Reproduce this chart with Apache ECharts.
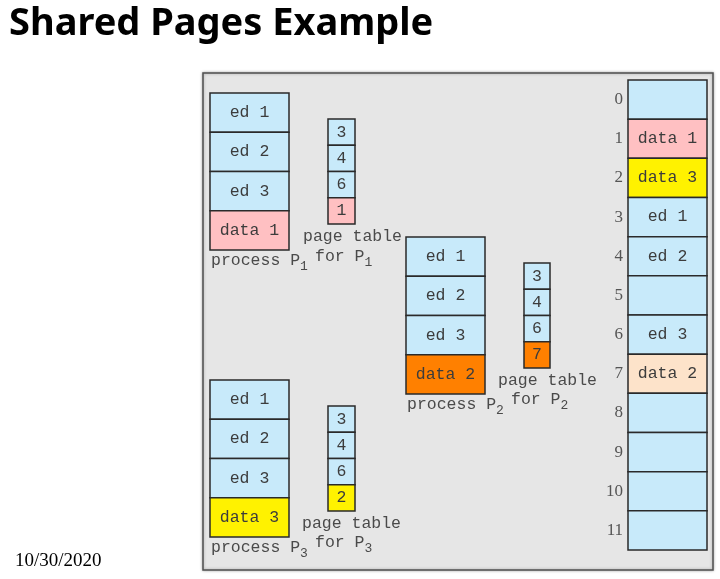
<!DOCTYPE html>
<html><head><meta charset="utf-8">
<script src="https://cdn.jsdelivr.net/npm/echarts@6/dist/echarts.min.js"></script>
<style>html,body{margin:0;padding:0;background:#fff}#c{width:720px;height:579px}</style>
</head><body><div id="c"></div>
<script>
const titleText = 'Shared Pages Example';
const dateText = '10/30/2020';
const frameNumbers = ['0','1','2','3','4','5','6','7','8','9','10','11'];
const frameContents = ['', 'data 1', 'data 3', 'ed 1', 'ed 2', '', 'ed 3', 'data 2', '', '', '', ''];
const pageIndex = ['0','1','2','3'];
const p1Pages = ['ed 1','ed 2','ed 3','data 1'];
const p2Pages = ['ed 1','ed 2','ed 3','data 2'];
const p3Pages = ['ed 1','ed 2','ed 3','data 3'];
const p1Table = ['3','4','6','1'];
const p2Table = ['3','4','6','7'];
const p3Table = ['3','4','6','2'];

const BLUE = '#c8eafa', PINK = '#ffc0c2', YELLOW = '#fff200', ORANGE = '#ff8000', PEACH = '#fde3ca';
const procColor = {'ed 1': BLUE, 'ed 2': BLUE, 'ed 3': BLUE, 'data 1': PINK, 'data 2': ORANGE, 'data 3': YELLOW};
const memColor = {'data 1': PINK, 'data 2': PEACH, 'data 3': YELLOW};
const MONO = 'Liberation Mono';
const FS = 16.5;

const grids = [], xAxes = [], yAxes = [], series = [];
function block(rect, cats, labels, colors, showAxis) {
  const i = grids.length;
  grids.push(Object.assign({containLabel: false}, rect));
  xAxes.push({type: 'value', gridIndex: i, min: 0, max: 1, show: false});
  yAxes.push({type: 'category', gridIndex: i, data: cats, inverse: true,
    axisLine: {show: false}, axisTick: {show: false}, splitLine: {show: false},
    axisLabel: {show: showAxis, color: '#555', fontFamily: 'Liberation Serif', fontSize: 17, margin: 5}});
  series.push({type: 'custom', xAxisIndex: i, yAxisIndex: i,
    encode: {x: 0, y: 1},
    data: cats.map((c, k) => [1, k]),
    renderItem: function (params, api) {
      const k = api.value(1);
      const a = api.coord([0, k]);
      const b = api.coord([api.value(0), k]);
      const h = api.size([0, 1])[1];
      return {
        type: 'rect',
        shape: {x: a[0], y: a[1] - h / 2, width: b[0] - a[0], height: h},
        style: {fill: colors[k], stroke: '#2a2a2a', lineWidth: 1.5},
        textContent: {style: {text: labels[k], fill: '#3c3c3c', font: FS + 'px "' + MONO + '"'}},
        textConfig: {position: 'inside'}
      };
    }});
}
const pColors = pages => pages.map(p => procColor[p]);
block({left: 210, top: 93, width: 79, height: 157}, p1Pages, p1Pages, pColors(p1Pages), false);
block({left: 328, top: 119, width: 27, height: 105}, pageIndex, p1Table, pColors(p1Pages), false);
block({left: 406, top: 237, width: 79, height: 157}, p2Pages, p2Pages, pColors(p2Pages), false);
block({left: 524, top: 263, width: 26, height: 105}, pageIndex, p2Table, pColors(p2Pages), false);
block({left: 210, top: 380, width: 79, height: 157}, p3Pages, p3Pages, pColors(p3Pages), false);
block({left: 328, top: 406, width: 27, height: 105}, pageIndex, p3Table, pColors(p3Pages), false);
block({left: 628, top: 80, width: 79, height: 470}, frameNumbers, frameContents,
  frameContents.map(c => memColor[c] || BLUE), true);

const CW = FS * 0.6;
function txt(x, y, s, extra) {
  return {type: 'text', x: x, y: y, z: 10, style: Object.assign({text: s, fill: '#4a4a4a', font: FS + 'px "' + MONO + '"',
    textVerticalAlign: 'middle'}, extra || {})};
}
function sub(x, y, base, s) {
  return [txt(x, y, base), txt(x + base.length * CW, y + 6, s, {font: '13px "' + MONO + '"'})];
}
const graphic = [
  {type: 'rect', shape: {x: 203, y: 73, width: 510, height: 497}, z: -10,
    style: {fill: '#e6e6e6', stroke: '#505050', lineWidth: 1.5, shadowColor: 'rgba(0,0,0,0.3)', shadowBlur: 3}},
  {type: 'text', x: 9, y: 24, style: {text: titleText, font: 'bold 38px "Noto Sans"', fill: '#000', textVerticalAlign: 'middle'}},
  {type: 'text', x: 15, y: 561, style: {text: dateText, font: '19px "Liberation Serif"', fill: '#000', textVerticalAlign: 'middle'}},
  txt(303, 237, 'page table'), ...sub(315, 257, 'for P', '1'), ...sub(211, 261, 'process P', '1'),
  txt(498, 381, 'page table'), ...sub(511, 400, 'for P', '2'), ...sub(407, 405, 'process P', '2'),
  txt(302, 524, 'page table'), ...sub(315, 543, 'for P', '3'), ...sub(211, 548, 'process P', '3')
];

const chart = echarts.init(document.getElementById('c'));
chart.setOption({animation: false, grid: grids, xAxis: xAxes, yAxis: yAxes, series: series, graphic: graphic});
</script></body></html>
